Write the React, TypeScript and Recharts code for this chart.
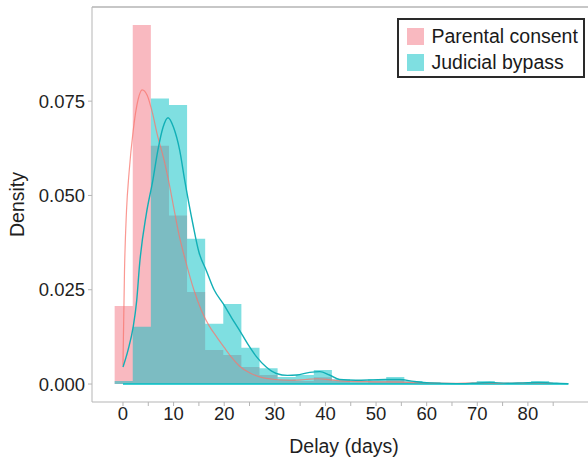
import {
  ComposedChart,
  Area,
  Line,
  XAxis,
  YAxis,
  Legend,
  ReferenceLine,
} from 'recharts';

// histogram bins (density scale), same bins for both groups
const binStart = -1.645;
const binWidth = 3.577;
const parentalHist = [
  0.0207, 0.0952, 0.0632, 0.0447, 0.0244, 0.009, 0.0077, 0.0045, 0.0024, 0.0012,
  0.0008, 0.0018, 0.0008, 0.0004, 0.0007, 0.001, 0.0004, 0.0003, 0.0002, 0.0002,
  0.0003, 0.0002, 0.0002, 0.0003, 0.0001,
];
const judicialHist = [
  0.0008, 0.0152, 0.0757, 0.074, 0.0385, 0.016, 0.0212, 0.0096, 0.0042, 0.0019,
  0.0024, 0.0037, 0.0013, 0.0008, 0.0013, 0.0019, 0.0008, 0.0005, 0.0002, 0.0002,
  0.0008, 0.0003, 0.0003, 0.0008, 0.0003,
];

// kernel density curves
const parentalDensityDays = [
  0, 0.3, 0.7, 1.2, 2, 3, 3.8, 4.8, 5.8, 6.8, 8, 9, 10, 11, 12.5, 14, 15.5, 17, 18.5,
  20, 21.5, 23, 25, 27, 30, 33, 36, 38.5, 41, 45, 50, 55, 60, 65, 70, 75, 80, 85,
];
const parentalDensity = [
  0.005, 0.03, 0.046, 0.056, 0.067, 0.0755, 0.078, 0.0765, 0.072, 0.066, 0.06, 0.054,
  0.047, 0.04, 0.032, 0.025, 0.0195, 0.0155, 0.0125, 0.0097, 0.007, 0.0048, 0.003,
  0.0019, 0.0012, 0.001, 0.0012, 0.0014, 0.0011, 0.0007, 0.0006, 0.0005, 0.0003,
  0.0002, 0.0003, 0.0002, 0.0003, 0.0002,
];
const judicialDensityDays = [
  0, 1, 2, 2.7, 3.3, 4.6, 5.9, 6.9, 7.9, 8.9, 10, 11.2, 12.2, 13.8, 15, 16.5, 18, 19.8,
  21.5, 23, 24.7, 26.4, 28.3, 30.3, 32.5, 34.3, 36.9, 38.9, 40.8, 42.8, 46, 49.4, 52,
  54.7, 57.5, 60.6, 65.9, 69, 72.5, 76, 79, 82, 85.7, 88,
];
const judicialDensity = [
  0.0045, 0.009, 0.015, 0.022, 0.032, 0.045, 0.054, 0.062, 0.068, 0.0706, 0.068, 0.062,
  0.054, 0.0425, 0.035, 0.03, 0.025, 0.0213, 0.0175, 0.0143, 0.0105, 0.0072, 0.0045,
  0.0028, 0.0023, 0.0024, 0.0031, 0.0033, 0.0024, 0.0012, 0.001, 0.0011, 0.0012,
  0.0012, 0.0007, 0.0003, 0.0001, 0.0002, 0.0004, 0.0002, 0.0003, 0.0004, 0.0002,
  0.0001,
];

const xTicks = [0, 5, 10, 15, 20, 25, 30, 35, 40, 45, 50, 55, 60, 65, 70, 75, 80, 85];
const yTicks = [0, 0.025, 0.05, 0.075];

const PINK = '#F8766D';
const PINK_BAR = '#F47382';
const TEAL = '#00BFC4';
const FONT = '"Liberation Sans", Arial, sans-serif';

// step-area rows: one point per bin edge, last edge repeats the final value
const toSteps = (hist: number[]) =>
  hist
    .map((v, i) => ({ x: binStart + i * binWidth, v }))
    .concat([{ x: binStart + hist.length * binWidth, v: hist[hist.length - 1] }]);

const toCurve = (days: number[], vals: number[]) => days.map((x, i) => ({ x, d: vals[i] }));

const parentalSteps = toSteps(parentalHist);
const judicialSteps = toSteps(judicialHist);
const parentalCurve = toCurve(parentalDensityDays, parentalDensity);
const judicialCurve = toCurve(judicialDensityDays, judicialDensity);

const xDomain = [-6.12, 92.27];
const yDomain = [-0.00476, 0.09996];

const LegendBox = () => (
  <div
    style={{
      width: 188,
      height: 60,
      boxSizing: 'border-box',
      border: '2px solid #2a2a2a',
      background: '#fff',
      padding: '3px 4px 3px 8px',
      fontFamily: FONT,
      fontSize: 19.5,
      color: '#1a1a1a',
      lineHeight: '26px',
    }}
  >
    {[
      { label: 'Parental consent', color: PINK_BAR },
      { label: 'Judicial bypass', color: TEAL },
    ].map((it) => (
      <div key={it.label} style={{ display: 'flex', alignItems: 'center', height: 26 }}>
        <span
          style={{
            width: 17,
            height: 17,
            background: it.color,
            opacity: 0.5,
            marginRight: 7.5,
            display: 'inline-block',
          }}
        />
        <span>{it.label}</span>
      </div>
    ))}
  </div>
);

export default function App() {
  return (
    <div style={{ position: 'absolute', left: 0, top: 0, width: 588, height: 459, overflow: 'hidden', background: '#fff' }}>
      <ComposedChart
        width={592}
        height={459}
        margin={{ top: 7, right: 2, bottom: 0, left: 0 }}
        style={{ fontFamily: FONT }}
      >
        <XAxis
          dataKey="x"
          type="number"
          domain={xDomain}
          ticks={xTicks}
          allowDataOverflow
          tickFormatter={(v: number) => (v % 10 === 0 ? String(v) : '')}
          tick={{ fontSize: 18.5, fill: '#1f1f1f' }}
          tickSize={4}
          tickMargin={1}
          stroke="#b5b5b5"
          height={57}
          label={{
            content: ({ viewBox }: any) => (
              <text
                x={viewBox.x + viewBox.width / 2 + 3}
                y={446}
                textAnchor="middle"
                dominantBaseline="central"
                fontSize={19.5}
                fill="#1f1f1f"
              >
                Delay (days)
              </text>
            ),
          }}
        />
        <YAxis
          type="number"
          domain={yDomain}
          ticks={yTicks}
          allowDataOverflow
          tickFormatter={(v: number) => v.toFixed(3)}
          tick={{ fontSize: 18.5, fill: '#1f1f1f' }}
          tickSize={4}
          tickMargin={3}
          stroke="#b5b5b5"
          width={92}
          label={{
            content: ({ viewBox }: any) => (
              <text
                x={17}
                y={viewBox.y + viewBox.height / 2}
                textAnchor="middle"
                dominantBaseline="central"
                fontSize={19.5}
                fill="#1f1f1f"
                transform={`rotate(-90, 17, ${viewBox.y + viewBox.height / 2})`}
              >
                Density
              </text>
            ),
          }}
        />
        <ReferenceLine y={yDomain[1]} stroke="#b5b5b5" strokeWidth={1.5} ifOverflow="extendDomain" />

        <Area
          data={parentalSteps}
          dataKey="v"
          name="Parental consent"
          type="stepAfter"
          baseValue={0}
          fill={PINK_BAR}
          fillOpacity={0.5}
          stroke="none"
          isAnimationActive={false}
        />
        <Area
          data={judicialSteps}
          dataKey="v"
          name="Judicial bypass"
          type="stepAfter"
          baseValue={0}
          fill={TEAL}
          fillOpacity={0.5}
          stroke="none"
          isAnimationActive={false}
        />
        <ReferenceLine
          segment={[
            { x: judicialDensityDays[0], y: 0 },
            { x: judicialDensityDays[judicialDensityDays.length - 1], y: 0 },
          ]}
          stroke={TEAL}
          strokeWidth={1.5}
        />
        <Line
          data={parentalCurve}
          dataKey="d"
          type="monotone"
          stroke={PINK}
          strokeOpacity={0.75}
          strokeWidth={1.2}
          dot={false}
          activeDot={false}
          legendType="none"
          isAnimationActive={false}
        />
        <Line
          data={judicialCurve}
          dataKey="d"
          type="monotone"
          stroke="#12AFB6"
          strokeWidth={1.4}
          dot={false}
          activeDot={false}
          legendType="none"
          isAnimationActive={false}
        />
        <Legend
          layout="horizontal"
          verticalAlign="middle"
          align="center"
          content={() => <LegendBox />}
          wrapperStyle={{ position: 'absolute', left: 397, top: 18, width: 188, height: 60 }}
        />
      </ComposedChart>
    </div>
  );
}
